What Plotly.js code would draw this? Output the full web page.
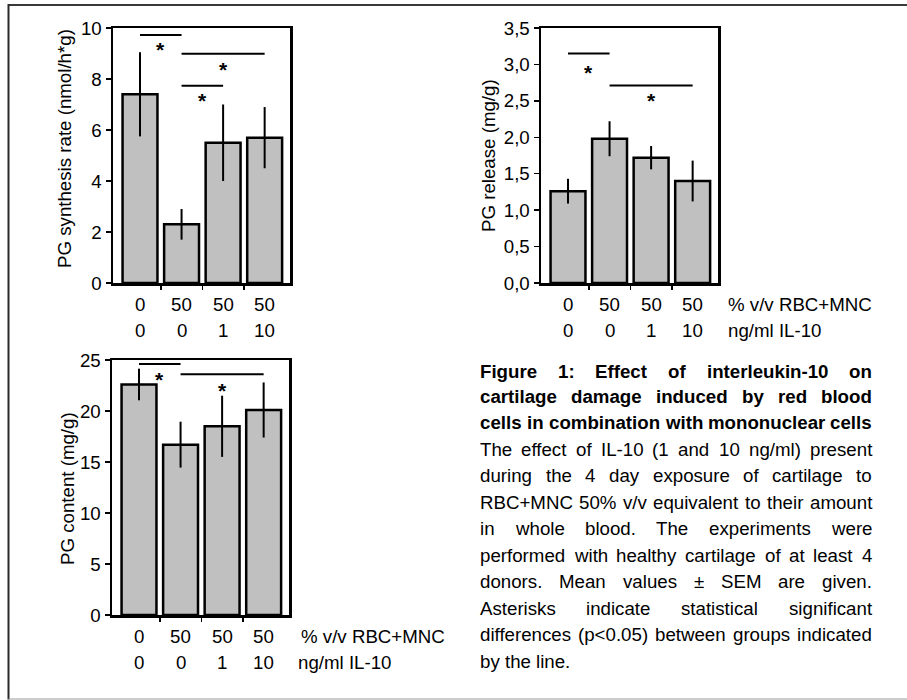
<!DOCTYPE html>
<html>
<head>
<meta charset="utf-8">
<script src="https://cdn.plot.ly/plotly-3.0.1.min.js"></script>
<style>
  html, body { margin: 0; padding: 0; background: #fff; }
  #fig { width: 907px; height: 700px; }
</style>
</head>
<body>
<div id="fig"></div>
<script>
// Treatment groups (two label rows under each bar)
const rbcMnc = ['0', '50', '50', '50'];
const il10 = ['0', '0', '1', '10'];

// PG synthesis rate (nmol/h*g), mean and SEM
const synthesisRate = [7.4, 2.3, 5.5, 5.7];
const synthesisSem = [1.65, 0.6, 1.5, 1.2];

// PG release (mg/g), mean and SEM
const pgRelease = [1.26, 1.98, 1.72, 1.40];
const releaseSem = [0.17, 0.24, 0.16, 0.28];

// PG content (mg/g), mean and SEM
const pgContent = [22.6, 16.7, 18.5, 20.1];
const contentSem = [1.55, 2.25, 3.0, 2.7];

// Significance brackets: [from group, to group, height]; asterisks: [x, y]
const synthesisSig = [[0, 1, 9.73], [1, 3, 8.99], [1, 2, 7.74]];
const synthesisStars = [[0.5, 9.14], [2, 8.39], [1.5, 7.15]];
const releaseSig = [[0, 1, 3.15], [1, 3, 2.71]];
const releaseStars = [[0.5, 2.89], [2, 2.5]];
const contentSig = [[0, 1, 24.6], [1, 3, 23.6]];
const contentStars = [[0.5, 23.1], [2, 22.05]];

const rowLabels = ['% v/v RBC+MNC', 'ng/ml IL-10'];

const captionBold = [
  'Figure 1: Effect of interleukin-10 on',
  'cartilage damage induced by red blood',
  'cells in combination with mononuclear cells'
];
const captionBody = [
  'The effect of IL-10 (1 and 10 ng/ml) present',
  'during the 4 day exposure of cartilage to',
  'RBC+MNC 50% v/v equivalent to their amount',
  'in whole blood. The experiments were',
  'performed with healthy cartilage of at least 4',
  'donors. Mean values \u00b1 SEM are given.',
  'Asterisks indicate statistical significant',
  'differences (p<0.05) between groups indicated',
  'by the line.'
];

const W = 907, H = 700;
const FONT = 'Liberation Sans, Arial, Helvetica, sans-serif';
const FS = 18.7;
const px = x => x / W;
const py = y => 1 - y / H;

const panels = [
  { ax: '', x0: 113, x1: 290, y0: 28, y1: 283, y: synthesisRate, e: synthesisSem,
    range: [0, 10], dtick: 2, fmt: 'd', sig: synthesisSig, stars: synthesisStars,
    title: 'PG synthesis rate (nmol/h*g)', tx: 64, ty: 149, rows: [304.5, 330.5], side: null },
  { ax: '2', x0: 541, x1: 718, y0: 28, y1: 283, y: pgRelease, e: releaseSem,
    range: [0, 3.5], dtick: 0.5, fmt: '.1f', sig: releaseSig, stars: releaseStars,
    title: 'PG release (mg/g)', tx: 488, ty: 155, rows: [304.5, 330.5], side: [726.7, 726.7] },
  { ax: '3', x0: 112, x1: 289, y0: 360, y1: 615, y: pgContent, e: contentSem,
    range: [0, 25], dtick: 5, fmt: 'd', sig: contentSig, stars: contentStars,
    title: 'PG content (mg/g)', tx: 67, ty: 489, rows: [636, 662], side: [300, 297] }
];

const groupIdx = rbcMnc.map((_, i) => i);
const traces = [];
const layout = {
  width: W, height: H,
  margin: { l: 0, r: 0, t: 0, b: 0 },
  paper_bgcolor: '#fff', plot_bgcolor: '#fff',
  showlegend: false,
  separators: ',.',
  font: { family: FONT, size: FS, color: '#000' },
  annotations: [],
  shapes: []
};

const textFont = { family: FONT, size: FS, color: '#000' };

panels.forEach(p => {
  const xa = 'x' + p.ax, ya = 'y' + p.ax;
  traces.push({
    type: 'bar', x: groupIdx, y: p.y, xaxis: xa, yaxis: ya,
    width: 0.84,
    marker: { color: '#c0c0c0', line: { color: '#000', width: 2.5 } },
    error_y: { type: 'data', array: p.e, visible: true, color: '#000', thickness: 2, width: 0 },
    hoverinfo: 'skip'
  });
  layout['xaxis' + p.ax] = {
    domain: [px(p.x0), px(p.x1)], anchor: ya,
    range: [-0.65, 3.61], type: 'linear',
    tickvals: [0.5, 1.5, 2.5], showticklabels: false,
    ticks: 'outside', ticklen: 4, tickwidth: 1.5, tickcolor: '#000',
    showline: true, mirror: true, linecolor: '#000', linewidth: 2.5,
    showgrid: false, zeroline: false, fixedrange: true
  };
  layout['yaxis' + p.ax] = {
    domain: [py(p.y1), py(p.y0)], anchor: xa,
    range: p.range, dtick: p.dtick, tick0: 0, tickformat: p.fmt,
    ticks: 'outside', ticklen: 5, tickwidth: 1.5, tickcolor: '#000',
    tickfont: textFont,
    showline: true, mirror: true, linecolor: '#000', linewidth: 2.5,
    showgrid: false, zeroline: false, fixedrange: true
  };
  // axis title
  layout.annotations.push({
    xref: 'paper', yref: 'paper', x: px(p.tx), y: py(p.ty),
    text: p.title, textangle: -90, showarrow: false,
    xanchor: 'center', yanchor: 'middle', font: textFont
  });
  // group label rows
  groupIdx.forEach(i => {
    [rbcMnc[i], il10[i]].forEach((t, r) => {
      layout.annotations.push({
        xref: xa, yref: 'paper', x: i, y: py(p.rows[r]),
        text: t, showarrow: false, xanchor: 'center', yanchor: 'middle',
        borderpad: 0, font: textFont
      });
    });
  });
  if (p.side) {
    rowLabels.forEach((t, r) => {
      layout.annotations.push({
        xref: 'paper', yref: 'paper', x: px(p.side[r]), y: py(p.rows[r]),
        text: t, showarrow: false, xanchor: 'left', yanchor: 'middle',
        borderpad: 0, font: textFont
      });
    });
  }
  // significance brackets and asterisks
  p.sig.forEach(s => {
    layout.shapes.push({
      type: 'line', xref: xa, yref: ya, x0: s[0], x1: s[1], y0: s[2], y1: s[2],
      line: { color: '#000', width: 2 }
    });
  });
  p.stars.forEach(s => {
    layout.annotations.push({
      xref: xa, yref: ya, x: s[0], y: s[1], text: '<b>*</b>', showarrow: false,
      xanchor: 'center', yanchor: 'middle',
      font: { family: FONT, size: 21, color: '#000' }
    });
  });
});

// outer frame of the figure
layout.shapes.push(
  { type: 'line', xref: 'paper', yref: 'paper', x0: px(8.5), x1: 1, y0: py(5), y1: py(5),
    line: { color: '#3a3a3a', width: 2 } },
  { type: 'line', xref: 'paper', yref: 'paper', x0: px(8.5), x1: px(8.5), y0: py(4), y1: py(699.5),
    line: { color: '#2a2a2a', width: 2 } },
  { type: 'line', xref: 'paper', yref: 'paper', x0: px(8.5), x1: 1, y0: py(699), y1: py(699),
    line: { color: '#9a9a9a', width: 1.2 } }
);

// justified caption, laid out word by word
const ctx = document.createElement('canvas').getContext('2d');
const measure = (t, bold) => {
  ctx.font = (bold ? 'bold ' : '') + FS + 'px "Liberation Sans"';
  return ctx.measureText(t).width;
};
const esc = t => t.replace(/&/g, '&amp;').replace(/</g, '&lt;').replace(/>/g, '&gt;');
const capL = 479, capR = 871;
const capY = [371, 396.5, 422, 449, 475.5, 502, 528.5, 555, 581.5, 608, 634.5, 661];
const capLines = captionBold.map(t => [t, true]).concat(captionBody.map(t => [t, false]));
capLines.forEach(([line, bold], k) => {
  const words = line.split(' ');
  const widths = words.map(w => measure(w, bold));
  const total = widths.reduce((a, b) => a + b, 0);
  const last = k === capLines.length - 1;
  const gap = last ? measure(' ', bold) : (capR - capL - total) / (words.length - 1);
  let x = capL;
  words.forEach((w, j) => {
    layout.annotations.push({
      xref: 'paper', yref: 'paper', x: px(x), y: py(capY[k]),
      text: bold ? '<b>' + esc(w) + '</b>' : esc(w),
      showarrow: false, xanchor: 'left', yanchor: 'middle', borderpad: 0,
      font: textFont
    });
    x += widths[j] + gap;
  });
});

Plotly.newPlot('fig', traces, layout, { staticPlot: true, displayModeBar: false });
</script>
</body>
</html>
